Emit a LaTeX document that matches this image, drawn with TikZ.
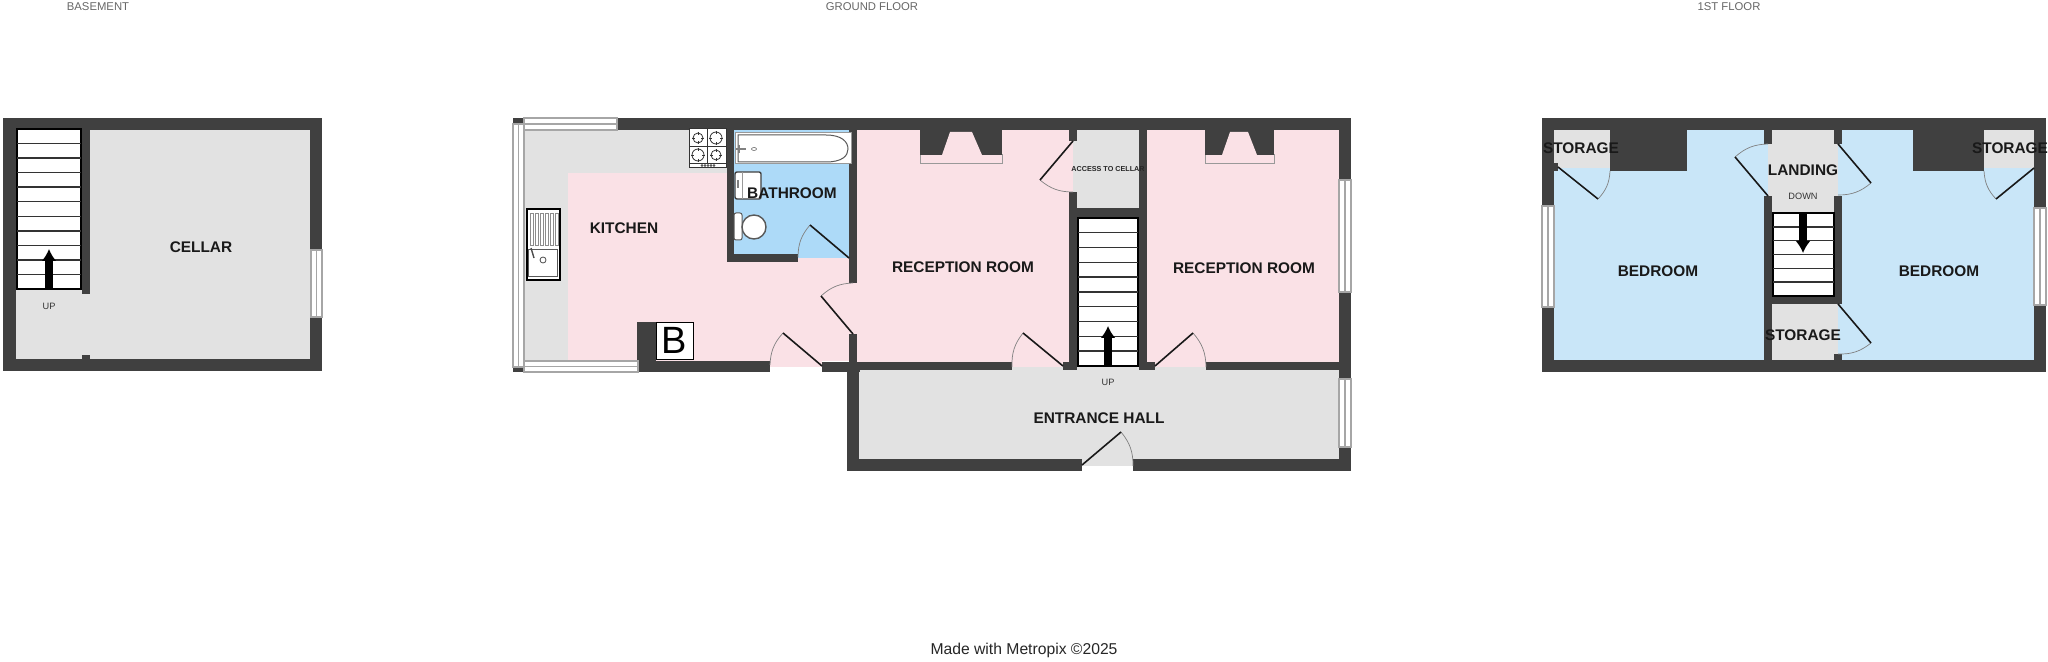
\documentclass[tikz,border=0pt]{standalone}
\usepackage{fontspec}
\setmainfont{Liberation Sans}
\usetikzlibrary{arrows.meta}

\definecolor{wallgrey}{HTML}{404040}
\definecolor{hallgrey}{HTML}{E2E2E2}
\definecolor{roompink}{HTML}{FAE1E6}
\definecolor{roomblue}{HTML}{C9E6F8}
\definecolor{bathblue}{HTML}{ADDAF8}

\newcommand{\sashv}[4]{
	\draw [sash] (#1, #2) rectangle (#3, #4);
	\draw [sash] ({(#1 + #3) / 2}, #2) -- ({(#1 + #3) / 2}, #4);
}
\newcommand{\sashh}[4]{
	\draw [sash] (#1, #2) rectangle (#3, #4);
	\draw [sash] (#1, {(#2 + #4) / 2}) -- (#3, {(#2 + #4) / 2});
}
\newcommand{\swingdoor}[4]{
	\draw [swing] (#2) to [#4 = 20] (#3);
	\draw [leaf] (#1) -- (#2);
}
\newcommand{\flight}[5]{
	\draw [flightbox] (#1, #2) rectangle (#3, #4);
	\foreach \n in {1, ..., #5}
		\draw [tread] (#1, {#2 + \n * (#4 - #2) / (#5 + 1)}) -- (#3, {#2 + \n * (#4 - #2) / (#5 + 1)});
}
\newcommand{\chimney}[6]{
	\draw [hearth] (#1, 155) rectangle (#2, 164);
	\fill [wallgrey] (#1, 130) rectangle (#2, 155);
	\fill [roompink] (#3, 155) -- (#4, 132) -- (#5, 132) -- (#6, 155) -- cycle;
}

\begin{document}
\begin{tikzpicture}[
	x = 0.5pt, y = -0.5pt,
	wall/.style = {fill = wallgrey},
	sash/.style = {draw = black!35, fill = white, line width = 0.6pt},
	swing/.style = {draw = black!50, line width = 0.35pt},
	leaf/.style = {draw = black!90, line width = 0.8pt},
	flightbox/.style = {draw = black, fill = white, line width = 0.7pt},
	tread/.style = {draw = black!80, line width = 0.7pt},
	hearth/.style = {draw = black!40, fill = roompink, line width = 0.5pt},
	updown/.style = {-{Latex[length = 6pt, width = 7.5pt]}, line width = 4pt, black},
	fitting/.style = {draw = black!65, fill = white, line width = 0.5pt},
	roomlabel/.style = {font = \bfseries\fontsize{7.7}{9}\selectfont, text = black!90, inner sep = 0pt, yshift = -0.5pt},
	smalllabel/.style = {font = \fontsize{4.6}{5}\selectfont, text = black!80, inner sep = 0pt, yshift = -0.3pt},
	floorlabel/.style = {font = \fontsize{5.65}{7}\selectfont, text = black!60, inner sep = 0pt, yshift = -0.5pt}
]

	\useasboundingbox (0, 0) rectangle (2048, 662);

	% Basement floors and walls

	\fill [hallgrey] (16, 130) rectangle (310, 359);
	\fill [wall] (3, 118) rectangle (322, 130);
	\fill [wall] (3, 359) rectangle (322, 371);
	\fill [wall] (3, 118) rectangle (16, 371);
	\fill [wall] (310, 118) rectangle (322, 371);
	\fill [wall] (82, 130) rectangle (90, 294);
	\fill [wall] (82, 355) rectangle (90, 359);
	\sashv{311}{250}{322}{317}
	\flight{17}{129}{81}{289}{10}
	\draw [updown] (49, 289) -- (49, 249);

	% Ground floor rooms

	\fill [hallgrey] (524, 130) rectangle (727, 361);
	\fill [roompink] (568, 173) rectangle (727, 361);
	\fill [roompink] (727, 258) rectangle (857, 361);
	\fill [roompink] (770, 361) rectangle (822, 367);
	\fill [bathblue] (734, 130) rectangle (849, 258);
	\fill [roompink] (857, 130) rectangle (1073, 362);
	\fill [roompink] (1012, 362) rectangle (1063, 367);
	\fill [hallgrey] (1073, 130) rectangle (1139, 208);
	\fill [roompink] (1147, 130) rectangle (1339, 362);
	\fill [roompink] (1155, 362) rectangle (1206, 367);
	\fill [hallgrey] (859, 370) rectangle (1339, 459);
	\fill [hallgrey] (1012, 367) rectangle (1206, 370);
	\fill [hallgrey] (1082, 459) rectangle (1133, 466);

	% Ground floor walls

	\fill [wall] (617, 118) rectangle (1351, 130);
	\fill [wall] (513, 118) rectangle (524, 124);
	\fill [wall] (513, 367) rectangle (524, 372);
	\fill [wall] (1339, 118) rectangle (1351, 471);
	\fill [wall] (638, 361) rectangle (770, 372);
	\fill [wall] (637, 322) rectangle (656, 361);
	\fill [wall] (822, 362) rectangle (860, 372);
	\fill [wall] (727, 130) rectangle (734, 262);
	\fill [wall] (727, 254) rectangle (798, 262);
	\fill [wall] (849, 130) rectangle (857, 283);
	\fill [wall] (849, 334) rectangle (857, 363);
	\fill [wall] (847, 363) rectangle (859, 471);
	\fill [wall] (847, 459) rectangle (1082, 471);
	\fill [wall] (1133, 459) rectangle (1351, 471);
	\fill [wall] (859, 362) rectangle (1012, 370);
	\fill [wall] (1063, 362) rectangle (1077, 370);
	\fill [wall] (1069, 130) rectangle (1077, 141);
	\fill [wall] (1069, 192) rectangle (1077, 370);
	\fill [wall] (1069, 208) rectangle (1147, 218);
	\fill [wall] (1139, 130) rectangle (1147, 370);
	\fill [wall] (1139, 362) rectangle (1155, 370);
	\fill [wall] (1206, 362) rectangle (1339, 370);

	% Chimneys

	\chimney{920}{1002}{942}{950}{972}{982}
	\chimney{1205}{1274}{1222}{1230}{1248}{1257}

	% Ground floor windows

	\sashv{513}{124}{524}{367}
	\sashh{524}{118}{617}{130}
	\sashh{524}{361}{638}{372}
	\sashv{1339}{180}{1351}{292}
	\sashv{1339}{379}{1351}{447}

	% Hob

	\draw [fitting, draw = black!80] (689, 129) rectangle (726, 168);
	\begin{scope}[draw = black!80, line width = 0.4pt]
		\draw (707.5, 129) -- (707.5, 163);
		\draw (689, 146) -- (726, 146);
		\draw (689, 163) -- (726, 163);
		\foreach \cx / \cy / \r in {698 / 138 / 5, 716 / 138 / 6, 698 / 155 / 6, 716 / 155 / 5} {
			\draw (\cx, \cy) circle (\r);
			\draw (\cx - \r - 1, \cy) -- (\cx - \r + 2, \cy);
			\draw (\cx + \r - 2, \cy) -- (\cx + \r + 1, \cy);
			\draw (\cx, \cy - \r - 1) -- (\cx, \cy - \r + 2);
			\draw (\cx, \cy + \r - 2) -- (\cx, \cy + \r + 1);
		}
		\foreach \x in {702, 705, ..., 714}
			\draw [line width = 0.2pt] (\x, 165.5) circle (1);
	\end{scope}

	% Sink

	\draw [fitting, draw = black, line width = 0.8pt] (527, 209) rectangle (560, 280);
	\foreach \x in {530.5, 535.5, ..., 555.5}
		\draw [black!45, line width = 0.4pt] (\x, 213) rectangle (\x + 3, 245);
	\draw [fitting] (528.5, 250) rectangle (557, 277);
	\draw [black!70, line width = 0.4pt] (543, 260) circle (3);
	\draw [black!70, line width = 0.7pt] (531, 248) -- (534, 258);

	% Bath, basin and toilet

	\draw [fitting, draw = black!40] (735, 133) rectangle (851, 164);
	\draw [fitting] (738, 135) -- (826, 135) .. controls (842, 135) and (848, 142) .. (848, 149) .. controls (848, 156) and (842, 162) .. (826, 162) -- (738, 162) -- cycle;
	\draw [black!50, line width = 0.6pt] (736, 149) -- (746, 149);
	\draw [black!50, line width = 0.6pt] (739, 145) -- (739, 153);
	\draw [black!60, line width = 0.3pt] (754, 149) ellipse (2.5 and 1.5);
	\draw [fitting, draw = black!75, line width = 0.7pt, rounded corners = 1pt] (735, 172) rectangle (761, 199);
	\draw [black!40, line width = 0.3pt] (742, 172) -- (742, 199);
	\draw [black!50, line width = 0.6pt] (738, 180) -- (738, 188);
	\draw [fitting, rounded corners = 1pt] (734, 213) rectangle (742, 240);
	\draw [fitting, line width = 0.7pt] (754, 227) circle (12);

	% Stairs and doors of the ground floor

	\flight{1078}{218}{1138}{366}{9}
	\draw [updown] (1108, 366) -- (1108, 326);
	\swingdoor{822, 366}{783, 333}{770, 365}{bend right}
	\swingdoor{853, 334}{821, 296}{853, 283}{bend left}
	\swingdoor{849, 258}{810, 225}{798, 257}{bend right}
	\swingdoor{1063, 366}{1023, 333}{1012, 367}{bend right}
	\swingdoor{1073, 141}{1040, 180}{1073, 192}{bend right}
	\swingdoor{1155, 366}{1193, 333}{1206, 367}{bend left}
	\swingdoor{1082, 465}{1121, 432}{1133, 466}{bend left}

	% First floor rooms

	\fill [roomblue] (1554, 130) rectangle (1768, 360);
	\fill [roomblue] (1838, 130) rectangle (2034, 360);
	\fill [hallgrey] (1768, 144) rectangle (1838, 196);
	\fill [hallgrey] (1772, 130) rectangle (1834, 213);
	\fill [hallgrey] (1772, 304) rectangle (1834, 360);
	\fill [hallgrey] (1834, 304) rectangle (1838, 354);
	\fill [hallgrey] (1554, 130) rectangle (1610, 168);
	\fill [hallgrey] (1984, 130) rectangle (2034, 168);

	% First floor walls

	\fill [wall] (1542, 118) rectangle (2046, 130);
	\fill [wall] (1542, 360) rectangle (2046, 372);
	\fill [wall] (1542, 118) rectangle (1554, 372);
	\fill [wall] (2034, 118) rectangle (2046, 372);
	\fill [wall] (1764, 130) rectangle (1772, 144);
	\fill [wall] (1764, 196) rectangle (1772, 360);
	\fill [wall] (1834, 130) rectangle (1842, 144);
	\fill [wall] (1834, 196) rectangle (1842, 304);
	\fill [wall] (1834, 354) rectangle (1842, 360);
	\fill [wall] (1764, 296) rectangle (1842, 304);
	\fill [wall] (1610, 130) rectangle (1687, 171);
	\fill [wall] (1913, 130) rectangle (1984, 171);
	\fill [wall] (1554, 163) rectangle (1558, 171);

	% First floor windows, stairs and doors

	\sashv{1542}{206}{1554}{307}
	\sashv{2034}{208}{2046}{305}
	\flight{1773}{213}{1834}{296}{5}
	\draw [updown] (1803, 213) -- (1803, 253);
	\swingdoor{1558, 167}{1598, 199}{1610, 171}{bend right}
	\swingdoor{2034, 168}{1996, 199}{1984, 171}{bend left}
	\swingdoor{1768, 196}{1735, 157}{1768, 144}{bend left}
	\swingdoor{1838, 144}{1871, 183}{1838, 195}{bend left}
	\swingdoor{1838, 304}{1871, 343}{1838, 354}{bend left}

	% Labels

	\node (basement) [floorlabel] at (98, 6) {BASEMENT};
	\node (groundfloor) [floorlabel] at (872, 6) {GROUND FLOOR};
	\node (firstfloor) [floorlabel] at (1729, 6) {1ST FLOOR};
	\node (cellar) [roomlabel] at (201, 246) {CELLAR};
	\node (cellarup) [smalllabel] at (49, 306) {UP};
	\node (kitchen) [roomlabel] at (624, 227) {KITCHEN};
	\node (bathroom) [roomlabel] at (792, 192) {BATHROOM};
	\node (boiler) [draw, fill = white, minimum size = 18.5pt, inner sep = 0pt, line width = 0.4pt, font = \fontsize{19}{20}\selectfont] at (674.5, 340.5) {B};
	\node (receptionleft) [roomlabel] at (963, 266) {RECEPTION ROOM};
	\node (receptionright) [roomlabel] at (1244, 267) {RECEPTION ROOM};
	\node (access) [font = \bfseries\fontsize{3.6}{4}\selectfont, text = black!85, inner sep = 0pt] at (1108, 169) {ACCESS TO CELLAR};
	\node (hall) [roomlabel] at (1099, 417) {ENTRANCE HALL};
	\node (hallup) [smalllabel] at (1108, 382) {UP};
	\node (storagewest) [roomlabel] at (1581, 147) {STORAGE};
	\node (landing) [roomlabel] at (1803, 169) {LANDING};
	\node (down) [smalllabel] at (1803, 196) {DOWN};
	\node (storagemid) [roomlabel] at (1803, 334) {STORAGE};
	\node (storageeast) [roomlabel] at (2010, 147) {STORAGE};
	\node (bedroomwest) [roomlabel] at (1658, 270) {BEDROOM};
	\node (bedroomeast) [roomlabel] at (1939, 270) {BEDROOM};
	\node (madewith) [font = \fontsize{7.85}{10}\selectfont, text = black!85, inner sep = 0pt] at (1024, 650) {Made with Metropix ©2025};

\end{tikzpicture}
\end{document}
